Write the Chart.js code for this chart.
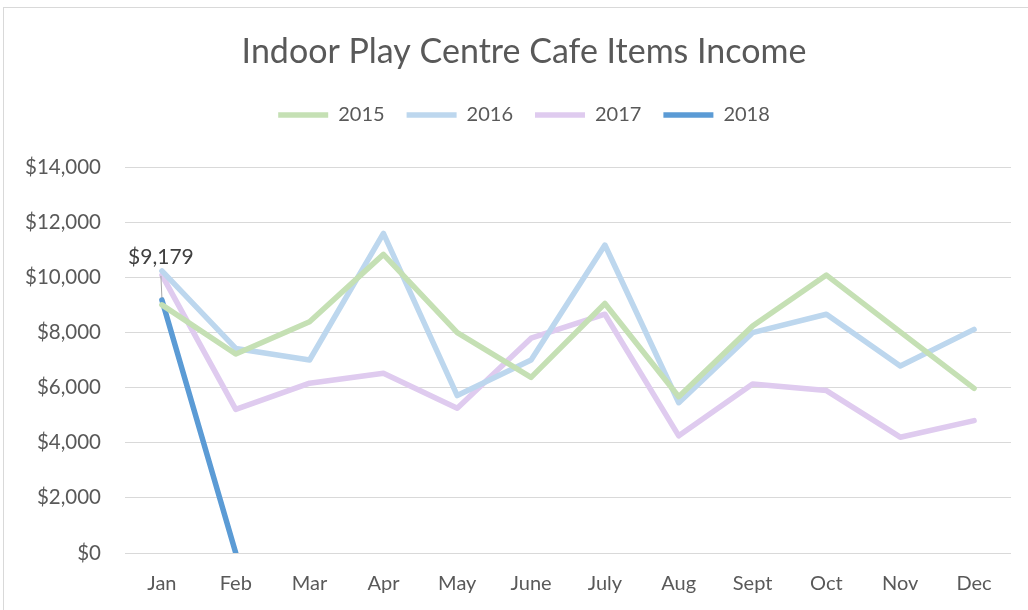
<!DOCTYPE html>
<html>
<head>
<meta charset="utf-8">
<script src="https://cdn.jsdelivr.net/npm/chart.js@4.4.1/dist/chart.umd.min.js"></script>
<style>
  html, body { margin: 0; padding: 0; background: #fff; }
  #wrap { position: relative; width: 1028px; height: 610px; overflow: hidden; }
  #frame { position: absolute; left: 3px; top: 7px; width: 1100px; height: 700px; border-left: 1px solid #D9D9D9; border-top: 1px solid #D9D9D9; box-sizing: border-box; }
  canvas { position: absolute; left: 0; top: 0; }
</style>
</head>
<body>
<div id="wrap">
  <div id="frame"></div>
  <canvas id="c" width="1048" height="610"></canvas>
</div>
<script>
const months = ["Jan","Feb","Mar","Apr","May","June","July","Aug","Sept","Oct","Nov","Dec"];
const income2015 = [9000, 7220, 8390, 10830, 7990, 6370, 9050, 5670, 8230, 10080, 8020, 5970];
const income2016 = [10230, 7420, 7000, 11590, 5710, 7000, 11170, 5450, 7990, 8660, 6780, 8110];
const income2017 = [10080, 5210, 6160, 6520, 5250, 7790, 8660, 4250, 6130, 5890, 4200, 4800];
const income2018 = [9179, 0];
const yTicks = [0, 2000, 4000, 6000, 8000, 10000, 12000, 14000];

const FONT = "Lato, 'Open Sans', sans-serif";
const TXT = "#595959";

function money(v) { return "$" + Number(v).toLocaleString("en-US"); }

const labelPlugin = {
  id: "dataLabel2018",
  afterDatasetsDraw(chart) {
    const meta = chart.getDatasetMeta(3);
    const pt = meta.data[0];
    if (!pt) return;
    const ctx = chart.ctx;
    ctx.save();
    ctx.strokeStyle = "#A6A6A6";
    ctx.lineWidth = 1;
    ctx.beginPath();
    ctx.moveTo(pt.x - 1, pt.y - 24);
    ctx.lineTo(pt.x, pt.y - 2);
    ctx.stroke();
    ctx.fillStyle = "#404040";
    ctx.font = "21px " + FONT;
    ctx.textAlign = "center";
    ctx.textBaseline = "middle";
    ctx.fillText(money(income2018[0]), pt.x - 1, pt.y - 43);
    ctx.restore();
  }
};

const legendSpacer = {
  id: "legendSpacer",
  afterInit(chart) {
    const lg = chart.legend;
    if (!lg || lg._spaced) return;
    const orig = lg.fit;
    lg.fit = function () { orig.call(this); this.height += 32; };
    lg._spaced = true;
  }
};

function ds(label, data, color) {
  return {
    label, data,
    borderColor: color, backgroundColor: color,
    borderWidth: 5.5, pointRadius: 0, pointHoverRadius: 0,
    borderCapStyle: "round", borderJoinStyle: "round",
    tension: 0, fill: false
  };
}

new Chart(document.getElementById("c"), {
  type: "line",
  data: {
    labels: months,
    datasets: [
      ds("2015", income2015, "#C5E0B4"),
      ds("2016", income2016, "#BDD7EE"),
      ds("2017", income2017, "#DFCBEF"),
      ds("2018", income2018, "#5B9BD5")
    ]
  },
  options: {
    responsive: false,
    animation: false,
    events: [],
    layout: { padding: { left: 0, right: 0, top: 0, bottom: 0 } },
    plugins: {
      title: {
        display: true,
        text: "Indoor Play Centre Cafe Items Income",
        color: TXT,
        font: { family: FONT, size: 34, weight: "normal" },
        padding: { top: 31.5, bottom: 10.7 }
      },
      legend: {
        display: true,
        position: "top",
        labels: {
          color: TXT,
          font: { family: FONT, size: 20 },
          usePointStyle: true,
          pointStyle: "line",
          pointStyleWidth: 50,
          padding: 22
        }
      },
      tooltip: { enabled: false }
    },
    scales: {
      x: {
        offset: true,
        grid: { display: false, drawTicks: false },
        border: { display: false },
        ticks: { color: TXT, font: { family: FONT, size: 20 }, padding: 19, maxRotation: 0, autoSkip: false },
        afterFit(s) { s.height = 57; }
      },
      y: {
        min: 0, max: 14000,
        afterBuildTicks(s) { s.ticks = yTicks.map(v => ({ value: v })); },
        grid: { color: "#D9D9D9", lineWidth: 1, drawTicks: false },
        border: { display: false },
        ticks: { color: TXT, font: { family: FONT, size: 20.5 }, padding: 24, callback: v => money(v) },
        afterFit(s) { s.width = 125; }
      },
      yRightSpace: {
        position: "right",
        min: 0, max: 1,
        grid: { display: false, drawTicks: false },
        border: { display: false },
        ticks: { display: false },
        afterFit(s) { s.width = 37; }
      }
    }
  },
  plugins: [labelPlugin, legendSpacer]
});
</script>
</body>
</html>
